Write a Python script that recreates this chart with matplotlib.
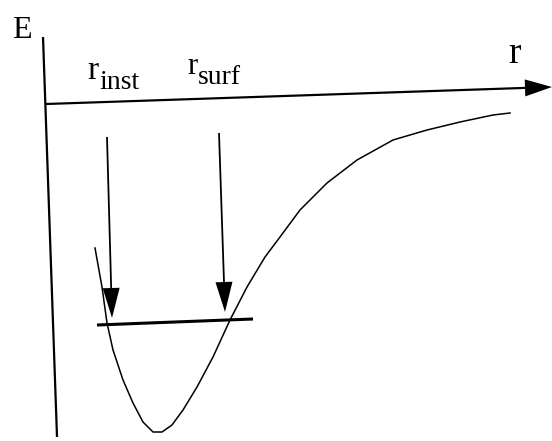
import matplotlib
matplotlib.use("Agg")
import matplotlib.pyplot as plt

# Potential energy curve E(r) (pixel-like coordinates, y downwards)
curve_x = [95, 102, 107, 113, 123, 133, 143, 153, 162, 172, 183, 197, 213, 230, 247, 265,
           280, 300, 327, 357, 393, 427, 460, 493, 510]
curve_y = [248, 287, 323, 350, 380, 403, 422, 432, 432, 425, 410, 387, 357, 320, 287, 257,
           237, 210, 183, 160, 140, 130, 122, 115, 113]

# Axes of the sketch
e_axis_x = [43, 57]
e_axis_y = [37, 437]
r_axis_start = (46, 104)
r_axis_end = (552, 87)

# Level line and marker arrows
level_x = [97, 253]
level_y = [325, 319]
arrow_inst = ((107, 137), (112, 318))
arrow_surf = ((219, 133), (225, 312))

labels = ["E", "r", "inst", "r", "surf", "r"]

fig = plt.figure(figsize=(5.52, 4.41), dpi=100)
ax = fig.add_axes([0, 0, 1, 1])
ax.set_xlim(0, 552)
ax.set_ylim(441, 0)
ax.axis("off")

font = ["Liberation Serif", "DejaVu Serif"]

# vertical E axis
ax.plot(e_axis_x, e_axis_y, color="black", lw=1.6, solid_capstyle="butt")
# r axis arrow
ax.arrow(r_axis_start[0], r_axis_start[1],
         r_axis_end[0] - r_axis_start[0], r_axis_end[1] - r_axis_start[1],
         width=2.2, head_width=17, head_length=27, length_includes_head=True,
         color="black", lw=0)

# curve
ax.plot(curve_x, curve_y, color="black", lw=1.1)

# level line
ax.plot(level_x, level_y, color="black", lw=2.2, solid_capstyle="butt")

# vertical arrows
for (x0, y0), (x1, y1) in (arrow_inst, arrow_surf):
    ax.arrow(x0, y0, x1 - x0, y1 - y0, width=1.8, head_width=17, head_length=30,
             length_includes_head=True, color="black", lw=0)

# labels
ax.text(12, 38, labels[0], fontsize=23, family=font, ha="left", va="baseline")
ax.text(87, 79, labels[1], fontsize=24, family=font, ha="left", va="baseline")
ax.text(99, 89, labels[2], fontsize=20, family=font, ha="left", va="baseline")
ax.text(187, 74, labels[3], fontsize=22, family=font, ha="left", va="baseline")
ax.text(198, 84, labels[4], fontsize=20, family=font, ha="left", va="baseline")
ax.text(508, 63, labels[5], fontsize=27, family=font, ha="left", va="baseline")

fig.savefig("out.png", dpi=100, facecolor="white")
